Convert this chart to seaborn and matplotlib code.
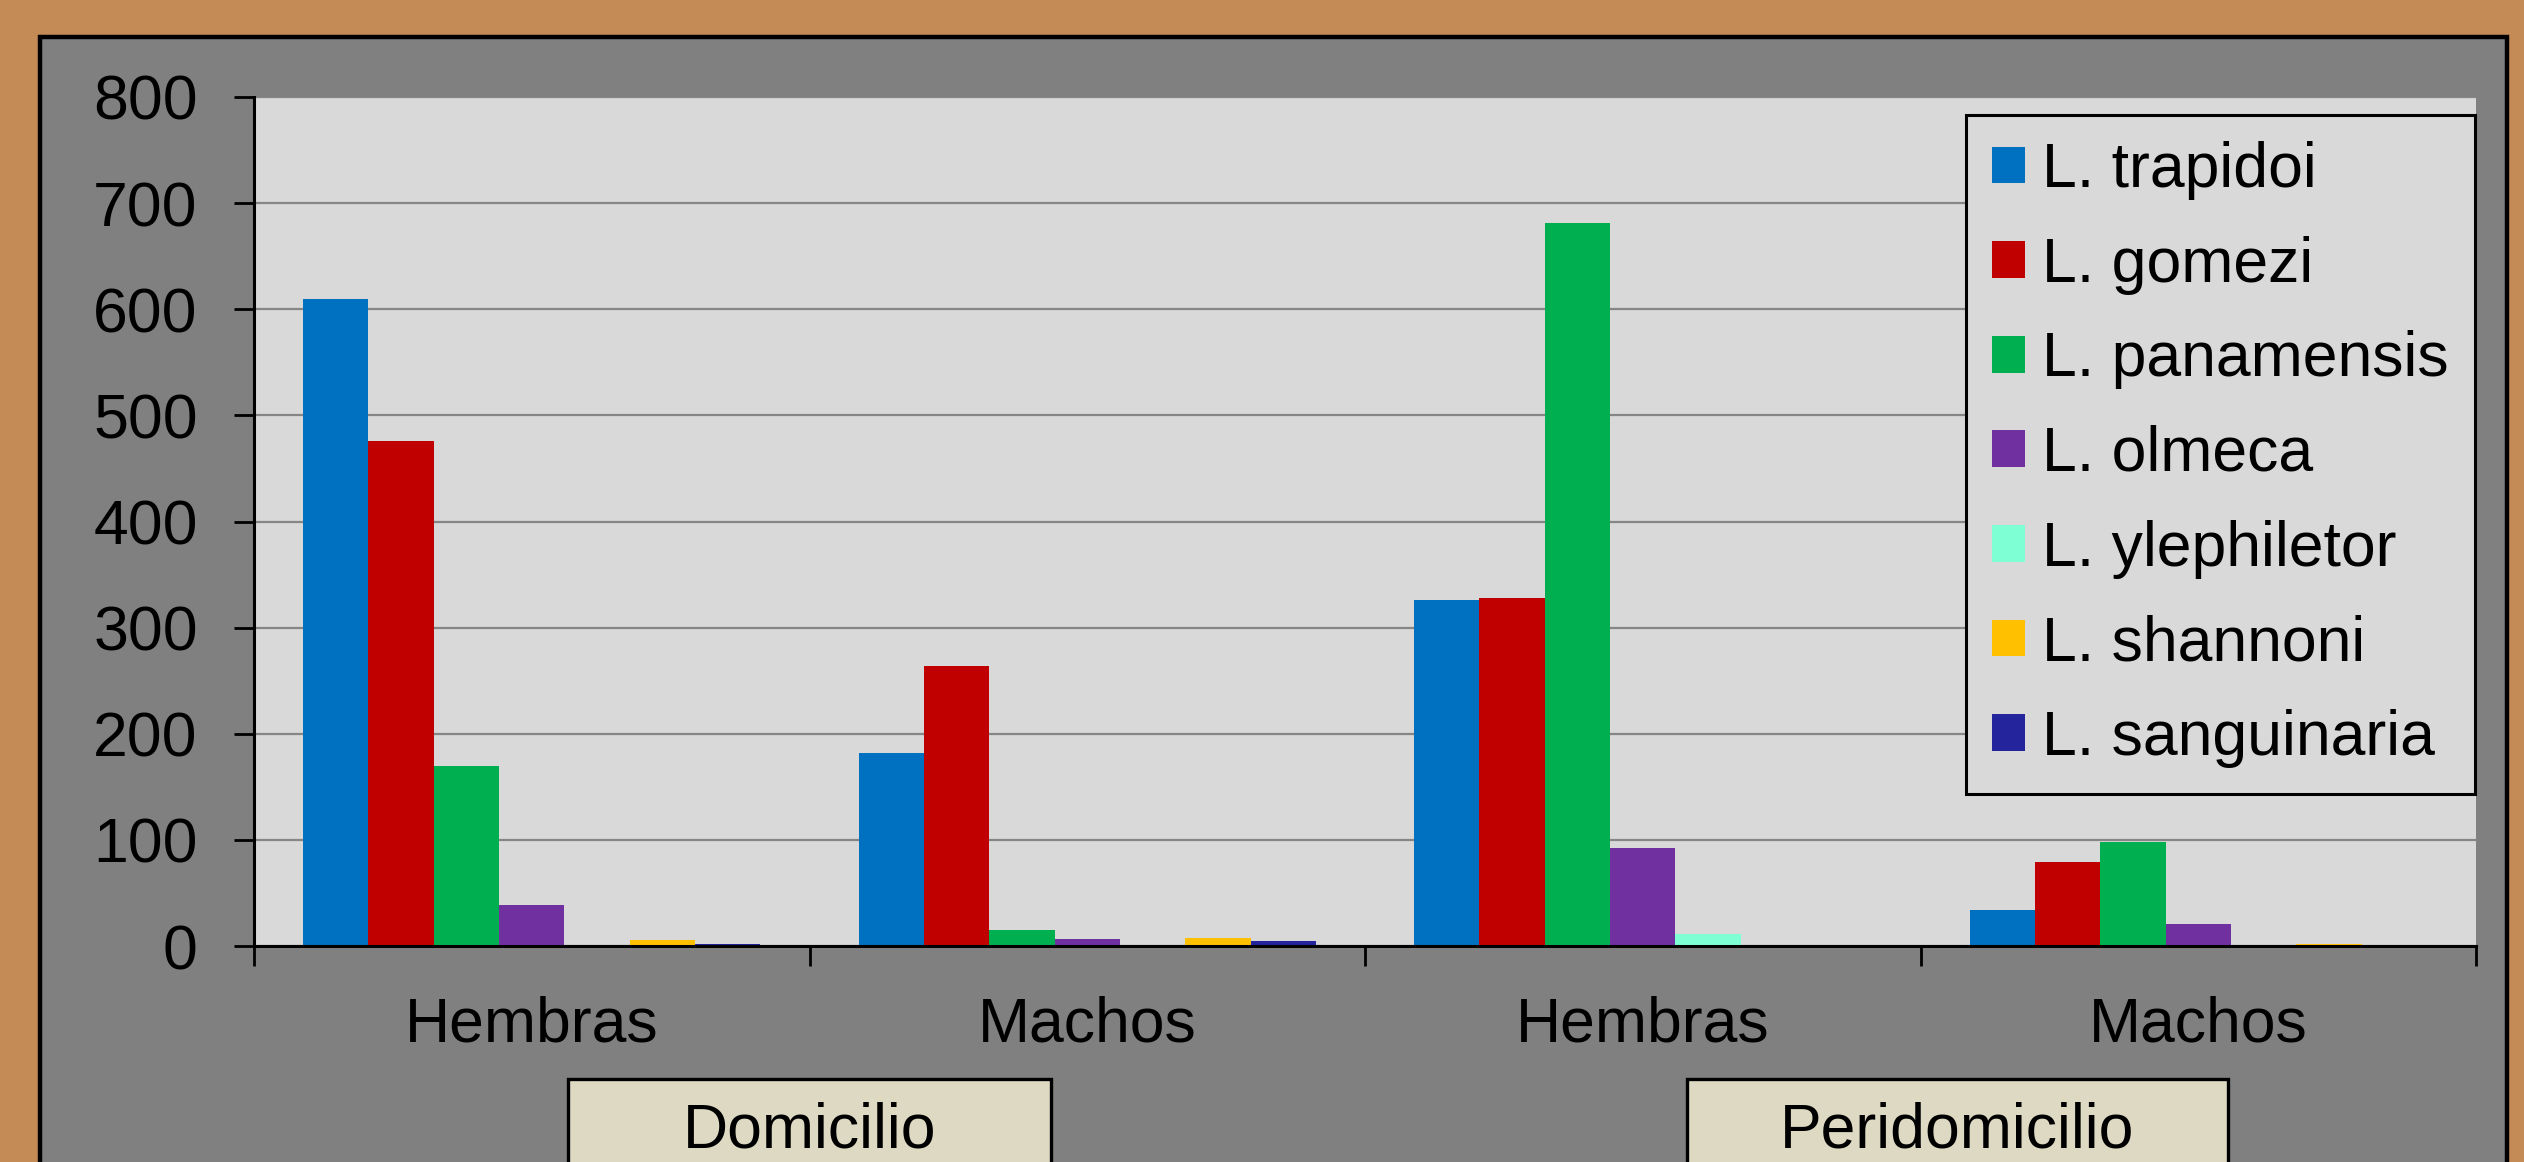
import matplotlib
matplotlib.use("Agg")
import matplotlib.pyplot as plt
from matplotlib.patches import Rectangle, Patch
import seaborn as sns
import pandas as pd

# ---------------- data ----------------
groups = ["Dom-Hembras", "Dom-Machos", "Peri-Hembras", "Peri-Machos"]
group_labels = ["Hembras", "Machos", "Hembras", "Machos"]
locations = ["Domicilio", "Peridomicilio"]
species = ["L. trapidoi", "L. gomezi", "L. panamensis", "L. olmeca",
           "L. ylephiletor", "L. shannoni", "L. sanguinaria"]
trapidoi = [610, 182, 326, 34]
gomezi = [476, 264, 328, 79]
panamensis = [170, 15, 681, 98]
olmeca = [39, 7, 92, 21]
ylephiletor = [1, 0, 11, 0]
shannoni = [6, 8, 0, 2]
sanguinaria = [2, 5, 1, 0]
colors = ["#0070C0", "#C00000", "#00B050", "#7030A0",
          "#7FFFD4", "#FFC000", "#24249C"]
yticks = [0, 100, 200, 300, 400, 500, 600, 700, 800]

series = [trapidoi, gomezi, panamensis, olmeca, ylephiletor, shannoni, sanguinaria]
rows = []
for sp, vals in zip(species, series):
    for g, v in zip(groups, vals):
        rows.append({"grupo": g, "especie": sp, "n": v})
df = pd.DataFrame(rows)

# ---------------- figure ----------------
sns.set_theme(style="white")
plt.rcParams["font.family"] = ["Liberation Sans", "DejaVu Sans"]
plt.rcParams["text.color"] = "black"

W, H = 2524, 1162
fig = plt.figure(figsize=(W / 100, H / 100), dpi=100)
fig.patch.set_facecolor("#C58B57")

def fx(px):
    return px / W

def fy(py):
    return 1 - py / H

# grey panel
panel = Rectangle((fx(40), fy(1300)), fx(2507) - fx(40), fy(37) - fy(1300),
                  transform=fig.transFigure, facecolor="#808080",
                  edgecolor="black", linewidth=3.2, zorder=-5)
fig.patches.append(panel)

ax = fig.add_axes([fx(254), fy(946), fx(2476) - fx(254), fy(97) - fy(946)])
ax.set_zorder(1)
ax.set_facecolor("#D9D9D9")

sns.barplot(data=df, x="grupo", y="n", hue="especie", order=groups,
            hue_order=species, palette=colors, width=7 / 8.5,
            linewidth=0, saturation=1, ax=ax, legend=False, errorbar=None)

ax.set_ylim(0, 800)
ax.set_xlim(-0.5, 3.5)
ax.set_yticks(yticks)
ax.set_yticklabels([str(t) for t in yticks])
ax.set_axisbelow(True)
ax.yaxis.grid(True, color="#868686", linewidth=1.6)
ax.xaxis.grid(False)

# x ticks: boundaries as major ticks, labels at centers via minor ticks
ax.set_xticks([-0.5, 0.5, 1.5, 2.5, 3.5])
ax.set_xticklabels([])
ax.set_xticks([0, 1, 2, 3], minor=True)
ax.set_xticklabels(group_labels, minor=True)
ax.tick_params(axis="x", which="major", direction="out", length=14.5,
               width=2.0, color="black", bottom=True)
ax.tick_params(axis="x", which="minor", length=0, pad=36, labelsize=45,
               labelcolor="black")
ax.tick_params(axis="y", direction="out", length=14.5, width=2.0,
               color="black", pad=26, labelsize=45, labelcolor="black", left=True)
ax.set_xlabel("")
ax.set_ylabel("")

for s in ["top", "right"]:
    ax.spines[s].set_visible(False)
for s in ["left", "bottom"]:
    ax.spines[s].set_color("black")
    ax.spines[s].set_linewidth(2.2)

handles = [Patch(facecolor=c, edgecolor="none", label=l) for c, l in zip(colors, species)]
leg = ax.legend(handles=handles, loc="upper right", bbox_to_anchor=(0.9995, 0.979),
                borderaxespad=0, fontsize=45, frameon=True, fancybox=False,
                framealpha=1, facecolor="#D9D9D9", edgecolor="black",
                handlelength=0.53, handleheight=0.53, handletextpad=0.27,
                labelspacing=0.57, borderpad=0.42, labelcolor="black")
leg.get_frame().set_linewidth(2.2)

# location boxes
for (x0, x1), name in zip([(568, 1051), (1687, 2228)], locations):
    box = Rectangle((fx(x0), fy(1300)), fx(x1) - fx(x0), fy(1079) - fy(1300),
                    transform=fig.transFigure, facecolor="#DDD9C3",
                    edgecolor="black", linewidth=2.4, zorder=2)
    fig.patches.append(box)
    fig.text(fx((x0 + x1) / 2), fy(1147), name, ha="center", va="baseline",
             fontsize=45, color="black", zorder=3)

fig.savefig("out.png", dpi=100, facecolor=fig.get_facecolor())
